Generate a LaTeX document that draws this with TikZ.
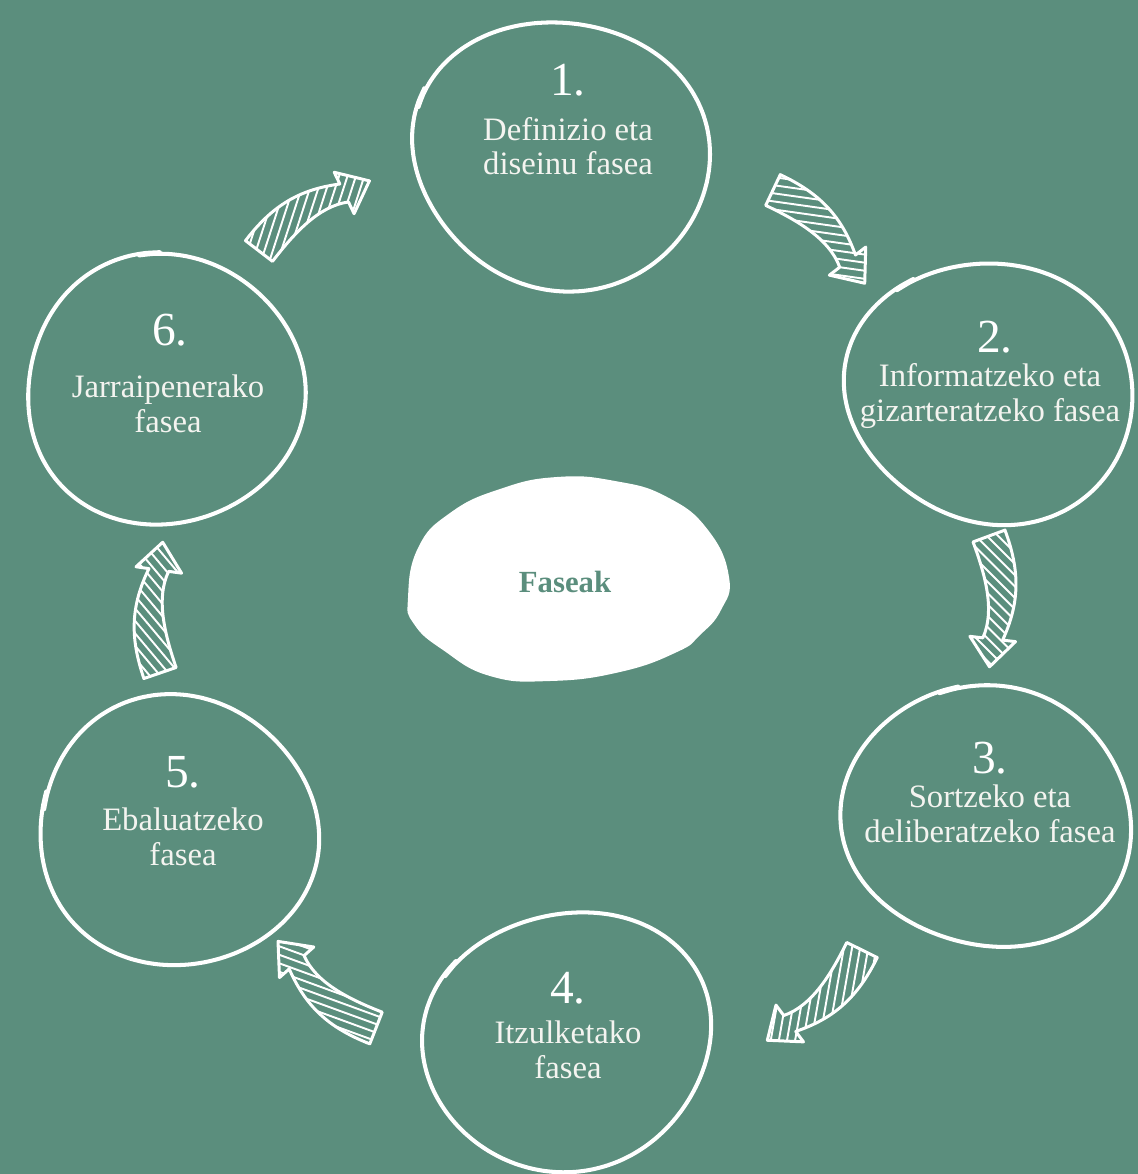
\documentclass[tikz,border=0pt]{standalone}
\usepackage{fontspec}
\setmainfont{Liberation Serif}
\definecolor{bg}{HTML}{5B8E7D}
\definecolor{txt}{HTML}{F4F4F0}
\tikzset{
 circline/.style={draw=white, line width=2.3pt, line cap=round, line join=round},
 arrowline/.style={draw=white, line width=1.7pt, line join=round},
 hatchline/.style={draw=white, line width=1.1pt},
 numtext/.style={text=white, font=\fontsize{27}{30}\selectfont, inner sep=0pt},
 phasetext/.style={text=txt, font=\fontsize{18.6}{19.6}\selectfont, align=center, inner sep=0pt},
 centertext/.style={text=bg, font=\bfseries\fontsize{17.5}{20}\selectfont, inner sep=0pt},
}
\newcommand\arrowshape[1]{#1 (-5.8,-16) .. controls (36.5,-31.4) and (67.7,-29.9) .. (104.2,-12.9) -- (105.8,-25.8) -- (130.8,0.4) -- (100.2,19.8) -- (101.8,6.9) .. controls (74.6,-5.8) and (38.7,4.1) .. (5.8,16) -- cycle;}
\newcommand\hatcharrow[5]{%
 \begin{scope}[shift={(#2,#3)}, rotate=-#4]
  \coordinate (#1) at (0,0);
  \pgfmathsetmacro\hang{#5-#4}
  \begin{scope}
   \arrowshape{\clip}
   \foreach \i in {-11,...,11}{\draw[hatchline] (62,-3) ++(\hang+90:\i*8) ++(\hang:90) -- ++(\hang+180:180);}
  \end{scope}
  \arrowshape{\draw[arrowline]}
 \end{scope}}
\newcommand\sketchcirc[6]{%
 \draw[circline] plot[smooth, domain=0:368, samples=63, variable=\t]
  ({#1+#3*(1+0.03*sin(2*\t+#5)+0.02*sin(3*\t+2*#5)+0.012*\t/368)*cos(\t+#6)},
   {#2+#4*(1+0.03*sin(2*\t+#5)+0.02*sin(3*\t+2*#5)+0.012*\t/368)*sin(\t+#6)});}
\begin{document}
\begin{tikzpicture}[x=0.02cm, y=-0.02cm]
\useasboundingbox (0,0) rectangle (1138,1174);
\fill[bg] (0,0) rectangle (1138,1174);

% phase circles
\sketchcirc{562}{154}{148}{133}{30}{200}
\sketchcirc{991}{392}{143}{130}{100}{230}
\sketchcirc{988}{817}{142}{132}{170}{250}
\sketchcirc{568}{1040}{143}{129}{240}{210}
\sketchcirc{178}{831}{142}{131}{310}{190}
\sketchcirc{165}{390}{142}{131}{60}{260}

% center blob
\fill[white] plot[smooth cycle, tension=0.8] coordinates {(408,598) (418,548) (450,513) (500,489) (557,477) (615,481) (667,497) (708,530) (729,577) (721,610) (700,635) (677,652) (620,672) (550,681) (490,676) (443,650) (414,624)};
\node[centertext] (faseak) at (565,582) {Faseak};

% numbers
\node[numtext] (n1) at (568,80) {1.};
\node[numtext] (n2) at (995,337) {2.};
\node[numtext] (n3) at (990,758) {3.};
\node[numtext] (n4) at (568,988) {4.};
\node[numtext] (n5) at (183,772) {5.};
\node[numtext] (n6) at (170,330) {6.};

% texts
\node[phasetext] (t1) at (568,146) {Definizio eta\\diseinu fasea};
\node[phasetext] (t2) at (990,396) {Informatzeko eta\\gizarteratzeko fasea};
\node[phasetext] (t3) at (990,814) {Sortzeko eta\\deliberatzeko fasea};
\node[phasetext] (t4) at (568,1050) {Itzulketako\\fasea};
\node[phasetext] (t5) at (183,837) {Ebaluatzeko\\fasea};
\node[phasetext] (t6) at (168,404) {Jarraipenerako\\fasea};

% arrows
\hatcharrow{a1}{773}{190}{45.3}{8}
\hatcharrow{a2}{989}{536}{89.6}{45}
\hatcharrow{a3}{862}{950}{136.2}{100}
\hatcharrow{a4}{376}{1028}{221.3}{20}
\hatcharrow{a5}{160}{673}{-89}{50}
\hatcharrow{a6}{259}{251}{-32.6}{-72}
\end{tikzpicture}
\end{document}
